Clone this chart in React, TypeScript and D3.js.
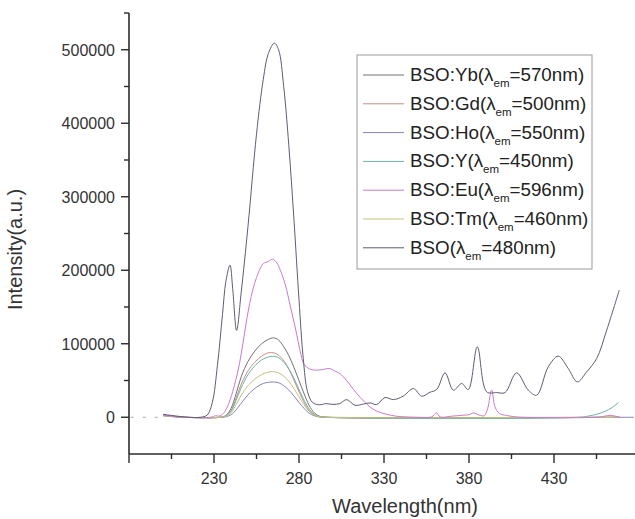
import React from 'react';
import * as d3 from 'd3';

// spectra: [wavelength nm, intensity]
const bsoData: [number, number][] = [
  [200, 4000], [205, 2500], [210, 1000], [215, 0], [222, 0], [226, 3000], [229, 20000],
  [232, 70000], [235, 140000], [237, 185000], [239.4, 207000], [241, 175000], [243.3, 118000],
  [246, 170000], [250, 260000], [255, 385000], [259, 460000], [262, 495000], [265.5, 509000],
  [268, 500000], [271, 450000], [274, 370000], [277, 270000], [280, 160000], [282.5, 80000],
  [285, 35000], [288, 20000], [292, 17000], [296, 18500], [300, 17500], [304, 18600], [308, 24000],
  [313, 16300], [318, 18000], [321.8, 19500], [325.7, 17300], [330.6, 26800], [335.5, 24000],
  [341.2, 28600], [347.3, 39000], [352.2, 28600], [357, 34000], [361, 37700], [365.9, 60400],
  [370.8, 36800], [375.7, 45900], [379.6, 37700], [384.9, 95800], [390.4, 34500], [396.3, 33600],
  [401.2, 33600], [408, 60400], [414.9, 36800], [419.8, 30000], [426.6, 68500], [432.5, 83100],
  [438.4, 66300], [443.7, 48100], [449.2, 61700], [455.1, 79900], [461, 118500], [468.4, 173000],
];

const euData: [number, number][] = [
  [200, 3000], [205, 1500], [212, 0], [228, 0], [231, 2000], [233, 1500], [235.5, 5000], [238, 15000],
  [241, 35000], [245, 73000], [248, 115000], [251, 155000], [255, 190000], [259, 209000],
  [262, 212000], [264.5, 215000], [267, 210000], [269, 200000], [272, 180000], [275, 150000],
  [278, 120000], [280.6, 91000], [283, 72000], [286, 66000], [290, 64000], [294, 65000],
  [298, 66300], [301, 63000], [304, 59500], [308, 50000], [312, 38000], [316, 27000],
  [321.8, 14000], [326, 8000], [331.6, 4000], [337, 1500], [343, 500], [350, 0], [358, 500],
  [361, 5800], [363, 500], [370, 1500], [376, 2700], [380, 3500], [382.5, 5800], [386, 3000],
  [389, 2000], [391, 12000], [393.3, 37000], [395.3, 14000], [398, 5000], [402, 2500], [406, 1000],
  [412, 0], [455, 0], [460, 1500], [463, 2700], [466, 1500], [469, 0],
];

const ybData: [number, number][] = [
  [200, 3000], [205, 1500], [212, 0], [234, 0], [237, 2500], [240, 12000], [243, 32000], [246, 55000],
  [250, 76000], [254, 90000], [258, 100000], [262, 106000], [265, 108000], [268, 105000],
  [271, 96000], [274, 84000], [277, 68000], [280, 50000], [283, 32000], [286, 16000], [289, 6000],
  [292, 1500], [296, 0], [468, 0],
];

const gdData: [number, number][] = [
  [200, 2500], [206, 1000], [212, 0], [234, 0], [237, 2000], [240, 9000], [243, 26000], [246, 45000],
  [250, 63000], [254, 75000], [258, 83000], [261, 87000], [264, 88000], [267, 86000], [270, 80000],
  [273, 70000], [276, 56000], [279, 40000], [282, 25000], [285, 12000], [288, 4500], [291, 1000],
  [295, 0], [468, 0],
];

const hoData: [number, number][] = [
  [200, 2000], [206, 800], [212, 0], [235, 0], [238, 1200], [241, 5000], [244, 13000], [247, 22000],
  [251, 33000], [255, 41000], [259, 46000], [262, 47500], [265, 48000], [268, 47000], [271, 43000],
  [274, 37000], [277, 29000], [280, 20000], [283, 12000], [286, 5500], [289, 2000], [292, 500],
  [296, 0], [477, 0],
];

const yData: [number, number][] = [
  [200, 2500], [206, 1000], [212, 0], [234, 0], [237, 1800], [240, 8000], [243, 23000], [246, 40000],
  [250, 58000], [254, 70000], [258, 78000], [262, 82000], [265, 83000], [268, 81000], [271, 75000],
  [274, 66000], [277, 53000], [280, 38000], [283, 23000], [286, 11000], [289, 4000], [292, 1000],
  [296, 0], [445, 0], [450, 1500], [455, 4000], [460, 8000], [464, 13000], [468, 20000],
];

const tmData: [number, number][] = [
  [200, 2000], [206, 800], [212, 0], [234, 0], [237, 1500], [240, 6000], [243, 17000], [246, 30000],
  [250, 43000], [254, 52000], [258, 58000], [262, 61500], [265, 62000], [268, 60500], [271, 56000],
  [274, 49000], [277, 39000], [280, 28000], [283, 17000], [286, 8000], [289, 3000], [292, 800],
  [296, 0], [468, 0],
];

const seriesNames = ['BSO:Yb', 'BSO:Gd', 'BSO:Ho', 'BSO:Y', 'BSO:Eu', 'BSO:Tm', 'BSO'];
const emWavelengths = ['570', '500', '550', '450', '596', '460', '480'];
const seriesColors = ['#727272', '#c98d8a', '#8482bf', '#6fb3a6', '#c77bc6', '#c4c27e', '#5e5c72'];
const seriesData = [ybData, gdData, hoData, yData, euData, tmData, bsoData];
// draw order so the baseline looks like the picture (olive/green on top, big ones last)
const drawOrder = [2, 0, 1, 3, 5, 4, 6];

const xTicks = [180, 230, 280, 330, 380, 430, 480];
const xMinorTicks = [205, 255, 305, 355, 405, 455];
const xLabels = [230, 280, 330, 380, 430];
const yTicks = [0, 100000, 200000, 300000, 400000, 500000];
const yMinorTicks = [50000, 150000, 250000, 350000, 450000, 550000];

const W = 635;
const H = 519;
const font = '"Liberation Sans", Arial, sans-serif';

export default function App() {
  const x = d3.scaleLinear().domain([180, 480]).range([129, 639]);
  const y = d3.scaleLinear().domain([-50000, 550000]).range([454, 13]);

  const line = d3.line<[number, number]>()
    .x(d => x(d[0]))
    .y(d => y(d[1]))
    .curve(d3.curveCatmullRom.alpha(0.5));

  const axisColor = '#2b2b2b';
  const legX = 357;
  const legY = 55;
  const rowH = 28.8;

  return (
    <svg width={W} height={H} style={{ position: 'absolute', left: 0, top: 0, background: '#fff' }}
      fontFamily={font}>
      <rect x={0} y={0} width={W} height={H} fill="#fff" />

      {/* faint start of zero line */}
      <line x1={x(181)} x2={x(198)} y1={y(0)} y2={y(0)} stroke="#aaa" strokeWidth={1}
        strokeDasharray="3,9" />

      <g fill="none" strokeWidth={1}>
        {drawOrder.map(i => (
          <path key={seriesNames[i]} d={line(seriesData[i]) || ''} stroke={seriesColors[i]} />
        ))}
      </g>

      {/* y axis */}
      <g>
        <line x1={x(180)} x2={x(180)} y1={y(-50000)} y2={y(550000)} stroke={axisColor} strokeWidth={1.6} />
        {yTicks.map(t => (
          <g key={t}>
            <line x1={x(180) - 8} x2={x(180)} y1={y(t)} y2={y(t)} stroke={axisColor} strokeWidth={1.4} />
            <text x={x(180) - 14} y={y(t)} dy="0.36em" textAnchor="end" fontSize={16} fill="#333">
              {t}
            </text>
          </g>
        ))}
        {yMinorTicks.map(t => (
          <line key={t} x1={x(180) - 5} x2={x(180)} y1={y(t)} y2={y(t)} stroke={axisColor} strokeWidth={1.4} />
        ))}
        <text transform={`translate(22,${(y(-50000) + y(550000)) / 2 + 16}) rotate(-90)`}
          textAnchor="middle" fontSize={20} fill="#333">
          Intensity(a.u.)
        </text>
      </g>

      {/* x axis */}
      <g>
        <line x1={x(180)} x2={W} y1={y(-50000)} y2={y(-50000)} stroke={axisColor} strokeWidth={1.6} />
        {xTicks.map(t => (
          <line key={t} x1={x(t)} x2={x(t)} y1={y(-50000)} y2={y(-50000) + 9} stroke={axisColor} strokeWidth={1.4} />
        ))}
        {xMinorTicks.map(t => (
          <line key={t} x1={x(t)} x2={x(t)} y1={y(-50000)} y2={y(-50000) + 5} stroke={axisColor} strokeWidth={1.4} />
        ))}
        {xLabels.map(t => (
          <text key={t} x={x(t)} y={484} textAnchor="middle" fontSize={16} fill="#333">{t}</text>
        ))}
        <text x={405} y={513} textAnchor="middle" fontSize={20} fill="#333">Wavelength(nm)</text>
      </g>

      {/* legend */}
      <g>
        <rect x={legX} y={legY} width={235} height={214} fill="#fff" stroke="#999" strokeWidth={1} />
        {seriesNames.map((name, i) => {
          const cy = legY + 20 + i * rowH;
          return (
            <g key={name}>
              <line x1={legX + 6} x2={legX + 47} y1={cy} y2={cy} stroke={seriesColors[i]} strokeWidth={1} />
              <text x={legX + 53} y={cy + 6} fontSize={18.8} fill="#222">
                {name}(λ
                <tspan dy={6} fontSize={11.5}>em</tspan>
                <tspan dy={-6}>={emWavelengths[i]}nm)</tspan>
              </text>
            </g>
          );
        })}
      </g>
    </svg>
  );
}
